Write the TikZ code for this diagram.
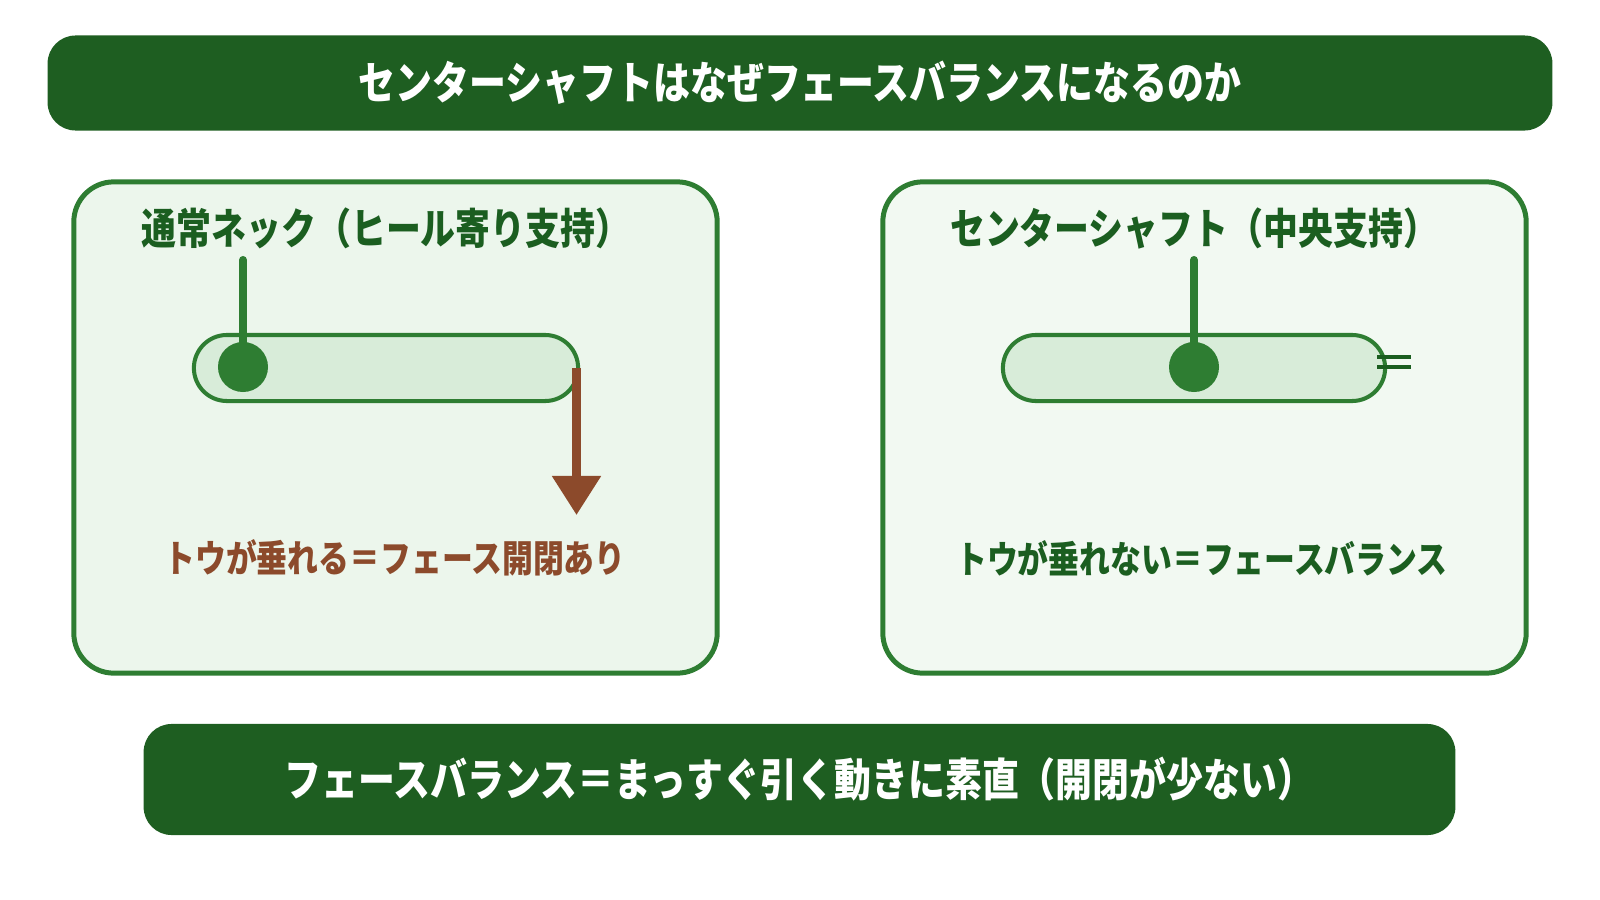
\documentclass[tikz,border=0pt]{standalone}
\usepackage{fontspec}
\newfontfamily\jpfont[FakeStretch=0.82]{Noto Sans CJK JP}
\usetikzlibrary{arrows.meta}
\definecolor{bandgreen}{HTML}{1E5E21}
\definecolor{edgegreen}{HTML}{2E7D32}
\definecolor{textgreen}{HTML}{1B5E20}
\definecolor{leftfill}{HTML}{ECF6EC}
\definecolor{rightfill}{HTML}{F2F9F2}
\definecolor{barfill}{HTML}{D8ECD9}
\definecolor{toebrown}{HTML}{8C4A2B}

\begin{document}
\begin{tikzpicture}[x=0.01cm,y=-0.01cm,
   band/.style={fill=bandgreen,rounded corners=0.28cm,text=white,inner sep=0pt},
   panel/.style={draw=edgegreen,line width=1.42pt,rounded corners=0.4cm,minimum width=6.43cm,minimum height=4.91cm},
   paneltitle/.style={text=textgreen,font={\jpfont\bfseries\fontsize{12.1pt}{14pt}\selectfont}},
   note/.style={font={\jpfont\bfseries\fontsize{10.7pt}{13pt}\selectfont}},
   puttface/.style={draw=edgegreen,line width=1.15pt,fill=barfill,rounded corners=0.33cm,minimum width=3.84cm,minimum height=0.66cm},
   hosel/.style={circle,fill=edgegreen,minimum size=0.5cm,inner sep=0pt},
   shaft/.style={edgegreen,line width=2.3pt,line cap=round},
   drop/.style={-{Triangle[width=0.47cm,length=0.39cm]},toebrown,line width=2.4pt}]
   \useasboundingbox (0,0) rectangle (1600,900);

   \node[band,minimum width=15.04cm,minimum height=0.95cm,
      font={\jpfont\bfseries\fontsize{12.8pt}{15pt}\selectfont}] (title) at (800,83)
      {センターシャフトはなぜフェースバランスになるのか};

   \node[panel,fill=leftfill] (heelpanel) at (395.5,427.5) {};
   \node[panel,fill=rightfill] (centerpanel) at (1204.5,427.5) {};

   \node[paneltitle] (heeltitle) at (386,228) {通常ネック（ヒール寄り支持）};
   \node[paneltitle] (centertitle) at (1194,228) {センターシャフト（中央支持）};

   \node[puttface] (heelbar) at (386,368) {};
   \node[puttface,minimum width=3.82cm] (centerbar) at (1194,368) {};

   \node[hosel] (heeldot) at (243,367) {};
   \node[hosel] (centerdot) at (1194,367) {};
   \coordinate (heelgrip) at (243,260);
   \coordinate (centergrip) at (1194,260);
   \draw[shaft] (heelgrip) -- (heeldot.center);
   \draw[shaft] (centergrip) -- (centerdot.center);

   \coordinate (toedrop) at (576.5,515);
   \draw[drop] (toedrop |- heelbar.east) -- (toedrop);

   \draw[textgreen,line width=1pt] (1377,357) -- (1411,357);
   \draw[textgreen,line width=1pt] (1377,367) -- (1411,367);

   \node[note,text=toebrown] (heelnote) at (395,558) {トウが垂れる＝フェース開閉あり};
   \node[note,text=textgreen] (centernote) at (1202,558) {トウが垂れない＝フェースバランス};

   \node[band,minimum width=13.11cm,minimum height=1.11cm,
      font={\jpfont\bfseries\fontsize{12.8pt}{15pt}\selectfont}] (summary) at (799.5,779.5)
      {フェースバランス＝まっすぐ引く動きに素直（開閉が少ない）};
\end{tikzpicture}
\end{document}
